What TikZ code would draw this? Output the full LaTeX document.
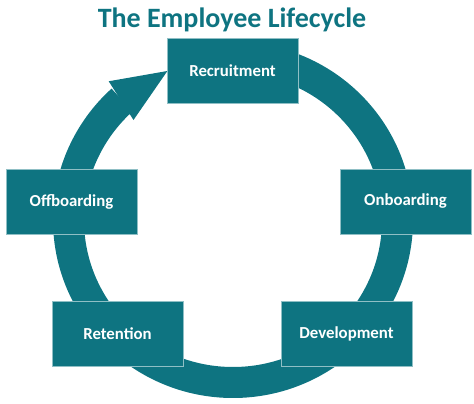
\documentclass[tikz,border=0pt]{standalone}
\usepackage{fontspec}
\setmainfont{Carlito}
\usepackage{tikz}
\usetikzlibrary{arrows.meta,bending,calc}
\definecolor{Teal}{HTML}{0E7481}
\definecolor{EdgeTeal}{HTML}{8FBFC5}

\begin{document}
\begin{tikzpicture}[x=1pt, y=1pt]
\tikzset{stage/.style={fill=Teal, draw=EdgeTeal, line width=0.6pt, text=white, font=\fontsize{16.8}{20}\selectfont\bfseries, minimum width=131pt, minimum height=65pt, inner sep=0pt}, ring/.style={draw=Teal, line width=31pt, -{Triangle[length=55pt, width=46pt, line width=0pt, flex]}}, heading/.style={text=Teal, font=\fontsize{28}{33}\selectfont\bfseries}}
\useasboundingbox (0,0) rectangle (474,404);
\coordinate (c) at (233,184);
% ring behind the boxes, ending in the arrow at recruitment
\draw[ring] ([yshift=162.5pt]c) arc[start angle=90, end angle=-246.5, x radius=164.5, y radius=162.5];
\node[heading] (title) at (232,384) {The Employee Lifecycle};
\node[stage] (recruit) at (232.5,333.5) {Recruitment};
\node[stage] (onboard) at (405.5,202.5) {Onboarding};
\node[stage] (develop) at (346.5,70.5) {Development};
\node[stage] (retain) at (117.5,70.5) {Retention};
\node[stage] (offboard) at (71.5,202.5) {Offboarding};
\end{tikzpicture}
\end{document}
